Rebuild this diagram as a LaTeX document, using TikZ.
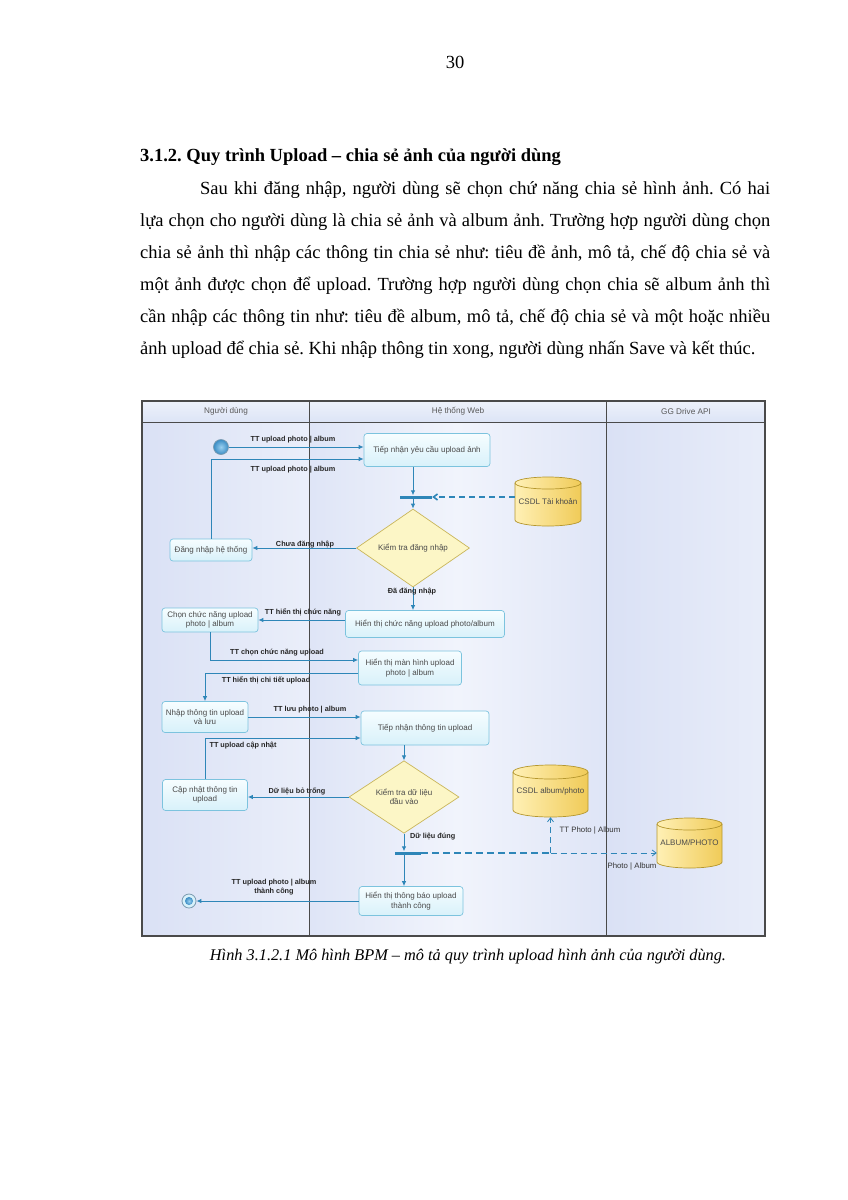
\documentclass[tikz,border=0pt]{standalone}
\usepackage{fontspec}
\setmainfont{Liberation Serif}
\newfontfamily\dgfont{Liberation Sans}
\usetikzlibrary{arrows.meta,calc,shapes.geometric}
\frenchspacing
\definecolor{flow}{HTML}{2E86B8}
\definecolor{boxline}{HTML}{7CC3DE}
\definecolor{boxtop}{HTML}{F6FDFF}
\definecolor{boxbot}{HTML}{D8F1FA}
\definecolor{txt}{HTML}{4A4A4A}
\definecolor{dmfill}{HTML}{FCF6C6}
\definecolor{dmline}{HTML}{C9B65A}
\definecolor{cyla}{HTML}{FFF0B5}
\definecolor{cylb}{HTML}{F0CB58}
\definecolor{cylline}{HTML}{B5972E}
\definecolor{lanea}{HTML}{DAE1F5}
\definecolor{laneb}{HTML}{F1F4FC}
\definecolor{headfill}{HTML}{DCE4F6}
\definecolor{frame}{HTML}{4A4A4A}
\definecolor{startin}{HTML}{9AD0F0}
\definecolor{startout}{HTML}{3A8CC4}
\definecolor{ringline}{HTML}{7A9AB0}
\tikzset{
  bodytext/.style={anchor=base west,inner sep=0pt,font=\fontsize{18.5}{22}\selectfont},
  stepbox/.style={rectangle,rounded corners=3pt,draw=boxline,line width=0.7pt,top color=boxtop,bottom color=boxbot,
    font=\dgfont\fontsize{8}{9.5}\selectfont,text=txt,align=center,inner sep=1pt},
  decision/.style={diamond,draw=dmline,line width=0.7pt,fill=dmfill,inner sep=0pt,
    font=\dgfont\fontsize{8}{9.5}\selectfont,text=txt,align=center},
  dbtext/.style={inner sep=0pt,font=\dgfont\fontsize{8}{9.5}\selectfont,text=txt,align=center},
  cylbody/.style={left color=cyla,right color=cylb,draw=cylline,line width=0.7pt},
  syncbar/.style={rectangle,fill=flow,inner sep=0pt,minimum height=3pt},
  flowline/.style={draw=flow,line width=0.9pt,-{Latex[length=5pt,width=4.5pt]}},
  dataflow/.style={draw=flow,line width=0.8pt,dash pattern=on 6pt off 4pt,-{Straight Barb[length=4pt,width=6pt]}},
  flowlbl/.style={inner sep=0pt,font=\dgfont\bfseries\fontsize{7.3}{8.3}\selectfont,text=black!85,align=center},
  datalbl/.style={inner sep=0pt,font=\dgfont\fontsize{7.8}{8.8}\selectfont,text=black!80},
  lanelbl/.style={inner sep=0pt,font=\dgfont\fontsize{8.2}{9}\selectfont,text=black!65},
}
\begin{document}
\begin{tikzpicture}[x=1pt,y=-1pt]
\useasboundingbox (0,0) rectangle (848,1200);
\fill[white] (0,0) rectangle (848,1200);

% ---------- page text ----------
\node[inner sep=0pt,font=\fontsize{18.5}{22}\selectfont] (pgno) at (455,62) {30};
\node[bodytext,font=\fontsize{18.5}{22}\selectfont\bfseries] (head) at (140,161) {3.1.2. Quy trình Upload – chia sẻ ảnh của người dùng};
\node[bodytext] (l1) at (200,194) {\makebox[570pt][s]{Sau khi đăng nhập, người dùng sẽ chọn chứ năng chia sẻ hình ảnh. Có hai}};
\node[bodytext] (l2) at (140,226) {\makebox[630pt][s]{lựa chọn cho người dùng là chia sẻ ảnh và album ảnh. Trường hợp người dùng chọn}};
\node[bodytext] (l3) at (140,258) {\makebox[630pt][s]{chia sẻ ảnh thì nhập các thông tin chia sẻ như: tiêu đề ảnh, mô tả, chế độ chia sẻ và}};
\node[bodytext] (l4) at (140,290) {\makebox[630pt][s]{một ảnh được chọn để upload. Trường hợp người dùng chọn chia sẽ album ảnh thì}};
\node[bodytext] (l5) at (140,322) {\makebox[630pt][s]{cần nhập các thông tin như: tiêu đề album, mô tả, chế độ chia sẻ và một hoặc nhiều}};
\node[bodytext] (l6) at (140,354) {ảnh upload để chia sẻ. Khi nhập thông tin xong, người dùng nhấn Save và kết thúc.};
\node[inner sep=0pt,font=\fontsize{16.3}{20}\selectfont\itshape] (cap) at (468,957) {Hình 3.1.2.1 Mô hình BPM – mô tả quy trình upload hình ảnh của người dùng.};

% ---------- swimlanes ----------
\shade[left color=lanea,right color=laneb!70!lanea] (142,422) rectangle (309,936);
\shade[left color=lanea!80!laneb,right color=lanea!80!laneb,middle color=laneb] (309,422) rectangle (606,936);
\shade[left color=lanea,right color=laneb!60!lanea] (606,422) rectangle (765,936);
\shade[top color=headfill!50!white,bottom color=headfill] (142,401) rectangle (765,422);
\draw[frame,line width=0.6pt] (142,422) -- (765,422);
\draw[frame,line width=0.8pt] (309,401) -- (309,936);
\draw[frame,line width=0.8pt] (606,401) -- (606,936);
\draw[frame,line width=1.1pt] (142,401) rectangle (765,936);
\node[lanelbl] (lane1) at (226,411.5) {Người dùng};
\node[lanelbl] (lane2) at (458,411.5) {Hệ thống Web};
\node[lanelbl] (lane3) at (686,411.5) {GG Drive API};

% ---------- cylinders ----------
\path[cylbody] (515,483) -- (515,520) arc[start angle=180,end angle=0,x radius=33,y radius=6] -- (581,483) arc[start angle=0,end angle=-180,x radius=33,y radius=6] -- cycle;
\draw[cylline,line width=0.7pt] (515,483) arc[start angle=180,end angle=0,x radius=33,y radius=6];
\node[dbtext,minimum width=66pt,minimum height=49pt] (db1) at (548,502) {\raisebox{-6pt}{CSDL Tài khoản}};

\path[cylbody] (513,772) -- (513,810) arc[start angle=180,end angle=0,x radius=37.5,y radius=7] -- (588,772) arc[start angle=0,end angle=-180,x radius=37.5,y radius=7] -- cycle;
\draw[cylline,line width=0.7pt] (513,772) arc[start angle=180,end angle=0,x radius=37.5,y radius=7];
\node[dbtext,minimum width=75pt,minimum height=52pt] (db2) at (550.5,791) {\raisebox{-3pt}{CSDL album/photo}};

\path[cylbody] (657,824) -- (657,862) arc[start angle=180,end angle=0,x radius=32.5,y radius=6] -- (722,824) arc[start angle=0,end angle=-180,x radius=32.5,y radius=6] -- cycle;
\draw[cylline,line width=0.7pt] (657,824) arc[start angle=180,end angle=0,x radius=32.5,y radius=6];
\node[dbtext,minimum width=65pt,minimum height=50pt] (db3) at (689.5,843) {\raisebox{-3pt}{ALBUM/PHOTO}};

% ---------- nodes ----------
\node[circle,minimum size=15pt,inner sep=0pt,draw=ringline,line width=0.7pt,inner color=startin,outer color=startout] (start) at (221,447) {};
\node[stepbox,minimum width=126pt,minimum height=33pt] (recv) at (427,450) {Tiếp nhận yêu cầu upload ảnh};
\node[syncbar,minimum width=32pt] (bar1) at (416,497) {};
\node[decision,minimum width=113pt,minimum height=43pt] (chk1) at (413,548) {Kiểm tra đăng nhập};
\node[stepbox,minimum width=82pt,minimum height=22pt] (login) at (211,550) {Đăng nhập hệ thống};
\node[stepbox,minimum width=159pt,minimum height=27pt] (showf) at (425,624) {Hiển thị chức năng upload photo/album};
\node[stepbox,minimum width=96pt,minimum height=24pt] (choose) at (210,620) {Chọn chức năng upload\\photo | album};
\node[stepbox,minimum width=103pt,minimum height=34pt] (screen) at (410,668) {Hiển thị màn hình upload\\photo | album};
\node[stepbox,minimum width=86pt,minimum height=31pt] (input) at (205,717) {Nhập thông tin upload\\và lưu};
\node[stepbox,minimum width=128pt,minimum height=34pt] (recvinfo) at (425,728) {Tiếp nhận thông tin upload};
\node[stepbox,minimum width=85pt,minimum height=31pt] (update) at (205,795) {Cập nhật thông tin\\upload};
\node[decision,minimum width=110pt,minimum height=51pt] (chk2) at (404,797) {Kiểm tra dữ liệu\\đầu vào};
\node[syncbar,minimum width=26pt] (bar2) at (408,853) {};
\node[stepbox,minimum width=104pt,minimum height=29pt] (done) at (411,901) {Hiển thị thông báo upload\\thành công};
\node[circle,minimum size=14pt,inner sep=0pt,draw=ringline,line width=0.8pt,fill=boxbot] (finish) at (189,901) {};
\node[circle,minimum size=8pt,inner sep=0pt,inner color=startin,outer color=startout] (finishin) at (finish) {};

% ---------- flows ----------
\draw[flowline] (start.east) -- ($(recv.west)+(0,-3)$);
\node[flowlbl] (f1) at (293,440) {TT upload photo | album};
\draw[flowline] (login.north) |- ($(recv.west)+(0,9)$);
\node[flowlbl] (f2) at (293,470) {TT upload photo | album};

\draw[flowline] (recv.south -| chk1.north) -- (chk1.north |- bar1.north);
\draw[flowline] (chk1.north |- bar1.south) -- (chk1.north);
\draw[dataflow,line width=1.6pt] (db1.west |- bar1) -- (bar1.east);

\draw[flowline] (chk1.west) -- (chk1.west -| login.east);
\node[flowlbl] (f3) at (305,545) {Chưa đăng nhập};
\draw[flowline] (chk1.south) -- (chk1.south |- showf.north);
\node[flowlbl] (f4) at (412,592) {Đã đăng nhập};

\draw[flowline] (choose.east -| showf.west) -- (choose.east);
\node[flowlbl] (f5) at (303,612) {TT hiển thị chức năng};
\draw[flowline] (choose.south) |- ($(screen.west)+(0,-8)$);
\node[flowlbl] (f6) at (277,653) {TT chọn chức năng upload};
\draw[flowline] ($(screen.west)+(0,5)$) -| (input.north);
\node[flowlbl] (f7) at (266,680) {TT hiển thị chi tiết upload};

\draw[flowline] (input.east) -- (input.east -| recvinfo.west);
\node[flowlbl] (f8) at (310,710) {TT lưu photo | album};
\draw[flowline] (update.north) |- ($(recvinfo.west)+(0,10)$);
\node[flowlbl] (f9) at (243,746) {TT upload cập nhật};

\draw[flowline] (recvinfo.south -| chk2.north) -- (chk2.north);
\draw[flowline] (chk2.west) -- (chk2.west -| update.east);
\node[flowlbl] (f10) at (297,791) {Dữ liệu bỏ trống};
\draw[flowline] (chk2.south) -- (chk2.south |- bar2.north);
\node[flowlbl,anchor=west] (f11) at (410,837) {Dữ liệu đúng};
\draw[flowline] (chk2.south |- bar2.south) -- (chk2.south |- done.north);

\coordinate (jn) at (db2.south |- bar2);
\draw[draw=flow,line width=1.6pt,dash pattern=on 7pt off 4pt] (bar2.east) -- (jn);
\draw[dataflow] (jn) -- (db2.south);
\draw[dataflow] (jn) -- (jn -| db3.west);
\node[datalbl] (f12) at (590,830) {TT Photo | Album};
\node[datalbl] (f13) at (632,866) {Photo | Album};

\draw[flowline] (done.west) -- (finish.east);
\node[flowlbl] (f14) at (274,887) {TT upload photo | album\\thành công};
\end{tikzpicture}
\end{document}
